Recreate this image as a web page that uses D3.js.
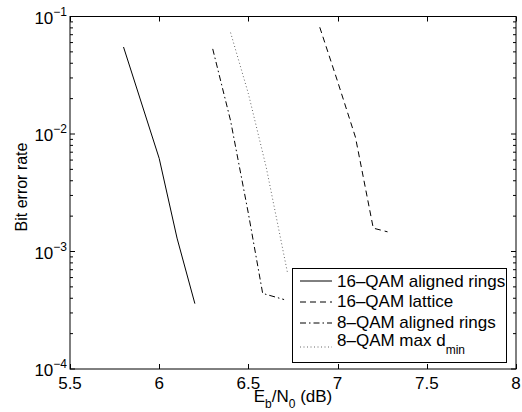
<!DOCTYPE html>
<html>
<head>
<meta charset="utf-8">
<script src="https://cdn.jsdelivr.net/npm/d3@7"></script>
<style>
  body { margin: 0; background: #fff; }
  text { font-family: "Liberation Sans", Arial, sans-serif; fill: #000; }
</style>
</head>
<body>
<div id="container"></div>
<script>
'use strict'
// Data (Eb/N0 in dB, bit error rate)
const ebno16Aligned = [5.8, 6.0, 6.1, 6.2];
const ber16Aligned  = [5.5e-2, 6.2e-3, 1.3e-3, 3.6e-4];
const ebno16Lattice = [6.9, 7.0, 7.1, 7.2, 7.28];
const ber16Lattice  = [8.1e-2, 2.8e-2, 9.4e-3, 1.58e-3, 1.47e-3];
const ebno8Aligned  = [6.3, 6.4, 6.5, 6.58, 6.7];
const ber8Aligned   = [5.3e-2, 1.3e-2, 2.1e-3, 4.4e-4, 3.9e-4];
const ebno8MaxD     = [6.4, 6.5, 6.6, 6.72];
const ber8MaxD      = [7.3e-2, 2.2e-2, 5.2e-3, 6.5e-4];

const xTicks = [5.5, 6, 6.5, 7, 7.5, 8];
const yDecades = [-4, -3, -2, -1];
const legendNames = ["16\u2013QAM aligned rings", "16\u2013QAM lattice", "8\u2013QAM aligned rings", "8\u2013QAM max d"];

const w = 522;
const h = 412;
const pLeft = 70, pRight = 516, pTop = 16.5, pBottom = 369;

const svg = d3.select("#container")
              .append("svg")
              .attr("width", w)
              .attr("height", h);

//Scales
const xScale = d3.scaleLinear().domain([5.5, 8]).range([pLeft, pRight]);
const yScale = d3.scaleLog().domain([1e-4, 1e-1]).range([pBottom, pTop]);

//Ticks (inside, on all four sides)
const minor = yScale.ticks().filter(v => Math.abs(Math.log10(v) - Math.round(Math.log10(v))) > 1e-6);
const tk = svg.append("g").attr("stroke", "#000").attr("stroke-width", 1);
xTicks.forEach(v => {
    const x = Math.round(xScale(v)) + 0.5;
    tk.append("line").attr("x1", x).attr("x2", x).attr("y1", pBottom).attr("y2", pBottom - 5);
    tk.append("line").attr("x1", x).attr("x2", x).attr("y1", pTop).attr("y2", pTop + 5);
});
yDecades.forEach(k => {
    const y = yScale(Math.pow(10, k));
    tk.append("line").attr("x1", pLeft).attr("x2", pLeft + 5).attr("y1", y).attr("y2", y);
    tk.append("line").attr("x1", pRight).attr("x2", pRight - 5).attr("y1", y).attr("y2", y);
});
minor.forEach(v => {
    const y = yScale(v);
    tk.append("line").attr("x1", pLeft).attr("x2", pLeft + 3).attr("y1", y).attr("y2", y);
    tk.append("line").attr("x1", pRight).attr("x2", pRight - 3).attr("y1", y).attr("y2", y);
});

//Box
svg.append("rect")
   .attr("x", pLeft).attr("y", pTop)
   .attr("width", pRight - pLeft).attr("height", pBottom - pTop)
   .attr("fill", "none").attr("stroke", "#000").attr("stroke-width", 1);

//Tick labels
svg.selectAll(".xlab")
   .data(xTicks)
   .enter()
   .append("text")
   .attr("class", "xlab")
   .attr("x", d => xScale(d)).attr("y", 389)
   .attr("text-anchor", "middle").style("font-size", "17px")
   .text(d => d);

yDecades.forEach(k => {
    const t = svg.append("text")
                 .attr("x", 67).attr("y", yScale(Math.pow(10, k)) + 7)
                 .attr("text-anchor", "end").style("font-size", "17px");
    t.append("tspan").text("10");
    t.append("tspan").attr("dy", -8).style("font-size", "12px").text("\u2212" + (-k));
});

//Lines
const line = d3.line().x(d => xScale(d[0])).y(d => yScale(d[1]));
const series = [
    { x: ebno16Aligned, y: ber16Aligned, dash: null },
    { x: ebno16Lattice, y: ber16Lattice, dash: "6,4" },
    { x: ebno8Aligned,  y: ber8Aligned,  dash: "6,3,1.5,3" },
    { x: ebno8MaxD,     y: ber8MaxD,     dash: "1,2.5" }
];
series.forEach(s => {
    svg.append("path")
       .datum(s.x.map((v, i) => [v, s.y[i]]))
       .attr("d", line)
       .attr("fill", "none")
       .attr("stroke", s === series[3] ? "#666" : "#000")
       .attr("stroke-width", 1)
       .attr("stroke-dasharray", s.dash);
});

//Legend
const lg = svg.append("g");
lg.append("rect")
  .attr("x", 292.5).attr("y", 268.5).attr("width", 214).attr("height", 94)
  .attr("fill", "#fff").attr("stroke", "#000").attr("stroke-width", 1);
const rowLine = [281, 302, 323, 347];
const rowText = [287, 307, 328, 346];
legendNames.forEach((name, i) => {
    lg.append("line")
      .attr("x1", 300).attr("x2", 332).attr("y1", rowLine[i]).attr("y2", rowLine[i])
      .attr("stroke", i === 3 ? "#666" : "#000").attr("stroke-width", 1)
      .attr("stroke-dasharray", series[i].dash);
    const t = lg.append("text").attr("x", 337).attr("y", rowText[i]).style("font-size", "17px");
    t.append("tspan").text(name);
    if (i === 3) t.append("tspan").attr("dy", 8).style("font-size", "12px").text("min");
});

//Axis labels
const xl = svg.append("text")
              .attr("x", (pLeft + pRight) / 2).attr("y", 402)
              .attr("text-anchor", "middle").style("font-size", "17px");
xl.append("tspan").text("E");
xl.append("tspan").attr("dy", 6).style("font-size", "12px").text("b");
xl.append("tspan").attr("dy", -6).text("/N");
xl.append("tspan").attr("dy", 6).style("font-size", "12px").text("0");
xl.append("tspan").attr("dy", -6).text(" (dB)");

svg.append("text")
   .attr("transform", "rotate(-90)")
   .attr("x", -187).attr("y", 27)
   .attr("text-anchor", "middle").style("font-size", "16px")
   .text("Bit error rate");
</script>
</body>
</html>
